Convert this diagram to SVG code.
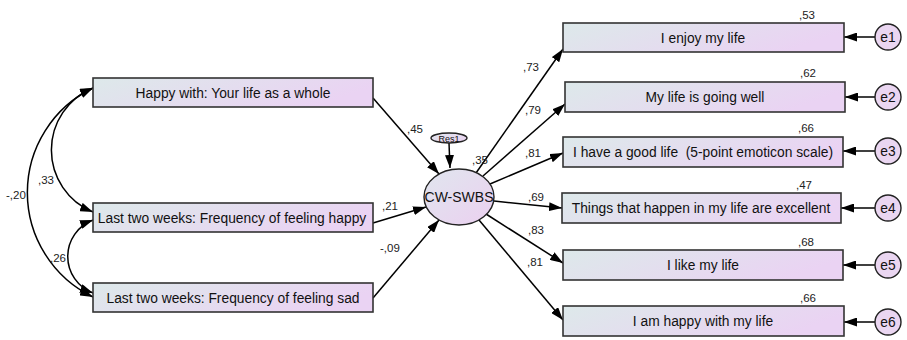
<svg xmlns="http://www.w3.org/2000/svg" width="907" height="340" viewBox="0 0 907 340">
<defs>
<linearGradient id="g" x1="0" y1="0" x2="1" y2="0.3">
<stop offset="0" stop-color="#dde9ea"/>
<stop offset="1" stop-color="#ead3f3"/>
</linearGradient>
<linearGradient id="ge" x1="0" y1="0" x2="1" y2="1">
<stop offset="0" stop-color="#e0e6ee"/>
<stop offset="1" stop-color="#ebd0f0"/>
</linearGradient>
<marker id="a" markerUnits="userSpaceOnUse" markerWidth="14" markerHeight="9" refX="13" refY="4.5" orient="auto-start-reverse">
<path d="M0,0 L13,4.5 L0,9 z" fill="#000"/>
</marker>
<style>
.box{fill:url(#g);stroke:#333;stroke-width:1.6}
.lat{fill:url(#ge);stroke:#222;stroke-width:1.4}
.err{fill:#ead6f1;stroke:#222;stroke-width:1.4}
.t{font-family:"Liberation Sans",Arial,sans-serif;font-size:13.8px;fill:#111;text-anchor:middle;dominant-baseline:central;white-space:pre}
.l{font-family:"Liberation Sans",Arial,sans-serif;font-size:11.5px;fill:#222}
.c line,.c path{stroke:#000;stroke-width:1.5;fill:none;marker-end:url(#a)}
.c .b{marker-start:url(#a)}
</style>
</defs>
<g class="c" id="connectors">
<path class="b" d="M93,88 A67,67 0 0 0 93,212"/>
<path class="b" d="M93,88 A116,116 0 0 0 93,297"/>
<path class="b" d="M93,220 A39,39 0 0 0 93,293"/>
<line x1="373" y1="98" x2="439" y2="174"/>
<line x1="373" y1="223" x2="426" y2="207"/>
<line x1="373" y1="298" x2="439" y2="220"/>
<line x1="449" y1="143" x2="450" y2="168"/>
<line x1="476" y1="173" x2="563" y2="49"/>
<line x1="483" y1="176" x2="565" y2="104"/>
<line x1="490" y1="184" x2="563" y2="153"/>
<line x1="494" y1="201" x2="562" y2="208"/>
<line x1="486" y1="214" x2="563" y2="263"/>
<line x1="479" y1="220" x2="563" y2="320"/>
<line x1="875" y1="37" x2="844" y2="37"/>
<line x1="875" y1="97" x2="845" y2="97"/>
<line x1="875" y1="151" x2="843" y2="151"/>
<line x1="875" y1="208" x2="841" y2="208"/>
<line x1="875" y1="265" x2="843" y2="265"/>
<line x1="875" y1="322" x2="844" y2="322"/>
</g>
<g id="labels">
<text class="l" x="38" y="184">,33</text>
<text class="l" x="6" y="199">-,20</text>
<text class="l" x="50" y="262">,26</text>
<text class="l" x="407" y="133">,45</text>
<text class="l" x="472" y="164">,35</text>
<text class="l" x="382" y="210">,21</text>
<text class="l" x="380" y="252">-,09</text>
<text class="l" x="523" y="71">,73</text>
<text class="l" x="525" y="114">,79</text>
<text class="l" x="525" y="157">,81</text>
<text class="l" x="528" y="201">,69</text>
<text class="l" x="528" y="234">,83</text>
<text class="l" x="527" y="266">,81</text>
<text class="l" x="799" y="19">,53</text>
<text class="l" x="800" y="77">,62</text>
<text class="l" x="798" y="132">,66</text>
<text class="l" x="796" y="189">,47</text>
<text class="l" x="798" y="246">,68</text>
<text class="l" x="800" y="302">,66</text>
</g>
<g id="x1"><rect class="box" x="93" y="78" width="280" height="29"/><text class="t" x="233" y="93">Happy with: Your life as a whole</text></g>
<g id="x2"><rect class="box" x="93" y="203" width="280" height="29"/><text class="t" x="232" y="218">Last two weeks: Frequency of feeling happy</text></g>
<g id="x3"><rect class="box" x="93" y="283" width="280" height="29"/><text class="t" x="233" y="298">Last two weeks: Frequency of feeling sad</text></g>
<g id="cwswbs"><ellipse class="lat" cx="459" cy="197" rx="35" ry="28"/><text class="t" x="459" y="197" style="font-size:14px">CW-SWBS</text></g>
<g id="res1"><ellipse class="lat" cx="449" cy="138" rx="18" ry="5"/><text class="t" x="449" y="138.5" style="font-size:9px">Res1</text></g>
<g id="y1"><rect class="box" x="563" y="23" width="281" height="29"/><text class="t" x="703" y="38">I enjoy my life</text></g>
<g id="y2"><rect class="box" x="565" y="82" width="280" height="30"/><text class="t" x="705" y="97">My life is going well</text></g>
<g id="y3"><rect class="box" x="563" y="137" width="280" height="30"/><text class="t" x="703" y="152" xml:space="preserve">I have a good life  (5-point emoticon scale)</text></g>
<g id="y4"><rect class="box" x="562" y="193" width="279" height="30"/><text class="t" x="701" y="208">Things that happen in my life are excellent</text></g>
<g id="y5"><rect class="box" x="563" y="250" width="280" height="30"/><text class="t" x="703" y="265">I like my life</text></g>
<g id="y6"><rect class="box" x="563" y="306" width="281" height="30"/><text class="t" x="703" y="321">I am happy with my life</text></g>
<g id="e1"><circle class="err" cx="888" cy="37" r="13"/><text class="t" x="888" y="37">e1</text></g>
<g id="e2"><circle class="err" cx="888" cy="97" r="13"/><text class="t" x="888" y="97">e2</text></g>
<g id="e3"><circle class="err" cx="888" cy="151" r="13"/><text class="t" x="888" y="151">e3</text></g>
<g id="e4"><circle class="err" cx="888" cy="208" r="13"/><text class="t" x="888" y="208">e4</text></g>
<g id="e5"><circle class="err" cx="888" cy="265" r="13"/><text class="t" x="888" y="265">e5</text></g>
<g id="e6"><circle class="err" cx="888" cy="322" r="13"/><text class="t" x="888" y="322">e6</text></g>
</svg>
